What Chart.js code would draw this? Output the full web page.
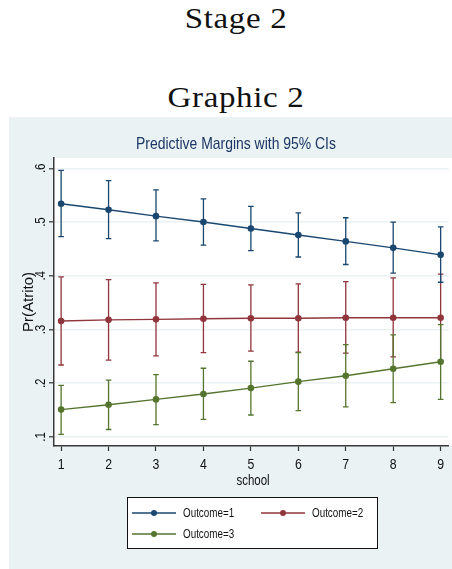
<!DOCTYPE html>
<html>
<head>
<meta charset="utf-8">
<script src="https://cdn.jsdelivr.net/npm/chart.js@4/dist/chart.umd.min.js"></script>
<style>
  html, body { margin: 0; padding: 0; background: #ffffff; }
  body { width: 452px; height: 569px; position: relative; overflow: hidden; }
  .head {
    position: absolute; left: 136px; width: 200px; text-align: center;
    font-family: "Liberation Serif", "DejaVu Serif", serif; font-size: 30px;
    line-height: 30px; letter-spacing: 0.6px; color: #111;
    transform: scaleX(1.1); transform-origin: 100px 0;
  }
  #stage { top: 3px; }
  #graphic { top: 82px; }
  #chart { position: absolute; left: 9px; top: 117px; }
</style>
</head>
<body>
<div class="head" id="stage">Stage 2</div>
<div class="head" id="graphic">Graphic 2</div>
<canvas id="chart" width="443" height="452"></canvas>
<script>
// school level on the x axis
const school = [1, 2, 3, 4, 5, 6, 7, 8, 9];
const xTicks = [1, 2, 3, 4, 5, 6, 7, 8, 9];
const yTicks = [0.1, 0.2, 0.3, 0.4, 0.5, 0.6];
const yTickLabels = ['.1', '.2', '.3', '.4', '.5', '.6'];

// predictive margins and 95% confidence limits, by outcome
const out1 = [0.534, 0.523, 0.511, 0.500, 0.488, 0.476, 0.464, 0.452, 0.439];
const out1Lo = [0.473, 0.469, 0.465, 0.457, 0.447, 0.435, 0.421, 0.405, 0.388];
const out1Hi = [0.596, 0.577, 0.560, 0.543, 0.529, 0.517, 0.508, 0.500, 0.491];

const out2 = [0.316, 0.318, 0.319, 0.320, 0.321, 0.321, 0.322, 0.322, 0.322];
const out2Lo = [0.234, 0.243, 0.251, 0.257, 0.260, 0.258, 0.256, 0.249, 0.241];
const out2Hi = [0.398, 0.393, 0.387, 0.384, 0.383, 0.385, 0.389, 0.396, 0.403];

const out3 = [0.151, 0.160, 0.170, 0.180, 0.191, 0.203, 0.214, 0.227, 0.240];
const out3Lo = [0.105, 0.114, 0.123, 0.133, 0.141, 0.149, 0.156, 0.164, 0.170];
const out3Hi = [0.196, 0.206, 0.216, 0.228, 0.241, 0.257, 0.272, 0.290, 0.309];

const seriesNames = ['Outcome=1', 'Outcome=2', 'Outcome=3'];
const seriesColors = ['#1a476f', '#90353b', '#55752f'];

const chartTitle = 'Predictive Margins with 95% CIs';
const xTitle = 'school';
const yTitle = 'Pr(Atrito)';

const SANS = '"Liberation Sans", Arial, sans-serif';
const PANEL = '#eaf2f3';
const INK = '#111111';

// narrow-set text: regular sans squeezed horizontally
function narrowText(ctx, text, x, y, size, opts) {
  const o = Object.assign({ align: 'center', color: INK, squeeze: 0.82, rotate: 0, baseline: 'alphabetic' }, opts || {});
  ctx.save();
  ctx.translate(x, y);
  if (o.rotate) ctx.rotate(o.rotate);
  ctx.scale(o.squeeze, 1);
  ctx.font = size + 'px ' + SANS;
  ctx.fillStyle = o.color;
  ctx.textAlign = o.align;
  ctx.textBaseline = o.baseline;
  ctx.fillText(text, 0, 0);
  ctx.restore();
}

const toPoints = (ys) => school.map((x, i) => ({ x: x, y: ys[i] }));

function makeSet(i, ys, lo, hi) {
  return {
    label: seriesNames[i],
    data: toPoints(ys),
    ciLow: lo,
    ciHigh: hi,
    borderColor: seriesColors[i],
    backgroundColor: seriesColors[i],
    borderWidth: 1.4,
    pointRadius: 3.3,
    pointHoverRadius: 3.3,
    pointBorderWidth: 0,
    tension: 0,
    fill: false
  };
}

// panel background and white plot region
const backdrop = {
  id: 'backdrop',
  beforeDraw(chart) {
    const { ctx, chartArea: a } = chart;
    ctx.save();
    ctx.fillStyle = PANEL;
    ctx.fillRect(0, 0, chart.width, chart.height);
    ctx.fillStyle = '#ffffff';
    ctx.fillRect(a.left, a.top, chart.width - a.left, a.bottom - a.top);
    ctx.restore();
  }
};

// capped confidence-interval bars
const ciBars = {
  id: 'ciBars',
  beforeDatasetsDraw(chart) {
    const { ctx } = chart;
    const xs = chart.scales.x, ys = chart.scales.y;
    const order = [1, 2, 0];
    ctx.save();
    order.forEach(di => {
      const ds = chart.data.datasets[di];
      ctx.strokeStyle = ds.borderColor;
      ctx.lineWidth = 1.3;
      ds.data.forEach((p, i) => {
        const px = xs.getPixelForValue(p.x);
        const yl = ys.getPixelForValue(ds.ciLow[i]);
        const yh = ys.getPixelForValue(ds.ciHigh[i]);
        ctx.beginPath();
        ctx.moveTo(px, yl); ctx.lineTo(px, yh);
        ctx.moveTo(px - 2.8, yl); ctx.lineTo(px + 2.8, yl);
        ctx.moveTo(px - 2.8, yh); ctx.lineTo(px + 2.8, yh);
        ctx.stroke();
      });
    });
    ctx.restore();
  }
};

// titles and tick labels
const texts = {
  id: 'texts',
  afterDraw(chart) {
    const { ctx, chartArea: a } = chart;
    const xs = chart.scales.x, ys = chart.scales.y;
    narrowText(ctx, chartTitle, 227, 32, 17, { color: '#1c3766' });
    xTicks.forEach(v => {
      narrowText(ctx, String(v), xs.getPixelForValue(v), a.bottom + 22.5, 15);
    });
    narrowText(ctx, xTitle, (a.left + chart.width) / 2, a.bottom + 38.7, 14);
    yTicks.forEach((v, i) => {
      narrowText(ctx, yTickLabels[i], 36, ys.getPixelForValue(v), 14, { rotate: -Math.PI / 2 });
    });
    narrowText(ctx, yTitle, 24, (a.top + a.bottom) / 2, 15, { rotate: -Math.PI / 2, squeeze: 1 });
  }
};

// framed legend below the axis
const boxLegend = {
  id: 'boxLegend',
  afterDraw(chart) {
    const { ctx } = chart;
    const box = { x: 118, y: 380, w: 251, h: 52 };
    ctx.save();
    ctx.fillStyle = '#ffffff';
    ctx.fillRect(box.x, box.y, box.w, box.h);
    ctx.strokeStyle = INK;
    ctx.lineWidth = 1;
    ctx.strokeRect(box.x + 0.5, box.y + 0.5, box.w - 1, box.h - 1);
    const slots = [
      { x: 123, y: 396 },
      { x: 252, y: 396 },
      { x: 123, y: 417 }
    ];
    chart.data.datasets.forEach((ds, i) => {
      const s = slots[i];
      ctx.strokeStyle = ds.borderColor;
      ctx.lineWidth = 1.4;
      ctx.beginPath();
      ctx.moveTo(s.x, s.y); ctx.lineTo(s.x + 44, s.y);
      ctx.stroke();
      ctx.fillStyle = ds.borderColor;
      ctx.beginPath();
      ctx.arc(s.x + 22, s.y, 3, 0, Math.PI * 2);
      ctx.fill();
      narrowText(ctx, ds.label, s.x + 51, s.y + 4.3, 12, { align: 'left' });
    });
    ctx.restore();
  }
};

new Chart(document.getElementById('chart'), {
  type: 'line',
  data: {
    datasets: [
      makeSet(0, out1, out1Lo, out1Hi),
      makeSet(1, out2, out2Lo, out2Hi),
      makeSet(2, out3, out3Lo, out3Hi)
    ]
  },
  plugins: [backdrop, ciBars, texts, boxLegend],
  options: {
    responsive: false,
    animation: false,
    devicePixelRatio: 1,
    layout: { padding: { left: 11, right: 0, top: 41, bottom: 73 } },
    plugins: {
      legend: { display: false },
      tooltip: { enabled: false },
      title: { display: false }
    },
    scales: {
      x: {
        type: 'linear',
        min: 0.85,
        max: 9.17,
        afterBuildTicks: (s) => { s.ticks = xTicks.map(v => ({ value: v })); },
        afterFit: (s) => { s.height = 50; },
        ticks: { display: false },
        grid: { drawOnChartArea: false, drawTicks: true, tickLength: 5, tickColor: '#333333', tickWidth: 1.2 },
        border: { display: true, color: '#3a3a3a', width: 1.5 }
      },
      y: {
        type: 'linear',
        min: 0.0833,
        max: 0.6192,
        afterBuildTicks: (s) => { s.ticks = yTicks.map(v => ({ value: v })); },
        afterFit: (s) => { s.width = 34; },
        ticks: { display: false },
        grid: { color: PANEL, lineWidth: 1.6, drawTicks: true, tickLength: 5, tickColor: '#333333', tickWidth: 1.2 },
        border: { display: true, color: '#3a3a3a', width: 1.5 }
      }
    }
  }
});
</script>
</body>
</html>
